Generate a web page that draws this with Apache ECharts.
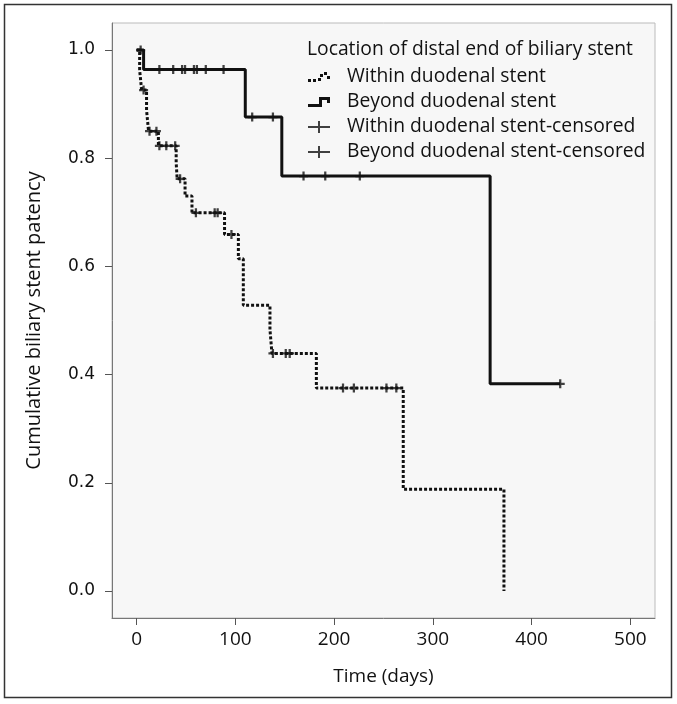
<!DOCTYPE html>
<html><head><meta charset="utf-8">
<script src="https://cdn.jsdelivr.net/npm/echarts@6/dist/echarts.min.js"></script>
<style>html,body{margin:0;padding:0;background:#fff}#c{width:677px;height:704px}</style>
</head><body><div id="c"></div>
<script>
// Kaplan-Meier step points (time in days, cumulative patency)
const withinTimes = [0, 3, 5, 10, 12, 22, 40, 41, 49, 56, 89, 103, 108, 135, 137, 182, 270, 372];
const withinSurv  = [1.0, 0.963, 0.926, 0.889, 0.850, 0.823, 0.792, 0.762, 0.730, 0.699, 0.659, 0.614, 0.528, 0.483, 0.439, 0.375, 0.188, 0.0];
const beyondTimes = [0, 7, 110, 147, 358, 429];
const beyondSurv  = [1.0, 0.964, 0.876, 0.767, 0.383, 0.383];
// censored observations
const withinCensTimes = [4, 7, 13, 20, 23, 30, 39, 44, 60, 79, 82, 96, 138, 151, 155, 209, 220, 253, 263];
const withinCensSurv  = [1.0, 0.926, 0.850, 0.850, 0.823, 0.823, 0.823, 0.762, 0.699, 0.699, 0.699, 0.659, 0.439, 0.439, 0.439, 0.375, 0.375, 0.375, 0.375];
const beyondCensTimes = [23, 37, 46, 49, 58, 61, 70, 88, 117, 138, 169, 191, 226, 429];
const beyondCensSurv  = [0.964, 0.964, 0.964, 0.964, 0.964, 0.964, 0.964, 0.964, 0.876, 0.876, 0.767, 0.767, 0.767, 0.383];
// axis ticks
const xTicks = [0, 100, 200, 300, 400, 500];
const yTicks = [0.0, 0.2, 0.4, 0.6, 0.8, 1.0];
const seriesNames = ['Within duodenal stent', 'Beyond duodenal stent', 'Within duodenal stent-censored', 'Beyond duodenal stent-censored'];
const legendTitle = 'Location of distal end of biliary stent';

const zip = (a, b) => a.map((v, i) => [v, b[i]]);
const FONT = '"Open Sans", "DejaVu Sans", sans-serif';
const INK = '#111';
const crossMark = 'path://M3,0h2v3h3v2h-3v3h-2v-3h-3v-2h3z';
const crossIcon = 'path://M10,0h2v5h10v2h-10v5h-2v-5h-10v-2h10z';
const dotStepIcon = 'path://M0,8h3v3h-3zM5,8h3v3h-3zM10,7h3v3h-3zM12,3h3v3h-3zM16,1h3v3h-3zM19,5h3v3h-3z';
const solidStepIcon = 'path://M0,8h11v-7h11v6h-3v-3h-5v7h-14z';

const chart = echarts.init(document.getElementById('c'), null, {renderer: 'canvas'});
chart.setOption({
  animation: false,
  backgroundColor: '#fff',
  title: {
    text: legendTitle, left: 302, top: 35,
    textStyle: {fontFamily: FONT, fontSize: 19.3, fontWeight: 'normal', color: INK}
  },
  legend: {
    orient: 'vertical', left: 303, top: 62,
    itemWidth: 22, itemHeight: 12, itemGap: 5,
    textStyle: {fontFamily: FONT, fontSize: 19.3, color: INK, lineHeight: 20, padding: [0, 0, 0, 12]},
    itemStyle: {color: INK, borderWidth: 0},
    selectedMode: false,
    data: [
      {name: seriesNames[0], icon: dotStepIcon},
      {name: seriesNames[1], icon: solidStepIcon},
      {name: seriesNames[2], icon: crossIcon},
      {name: seriesNames[3], icon: crossIcon}
    ]
  },
  graphic: [{
    type: 'rect', silent: true, z: -1,
    shape: {x: 4.5, y: 4.5, width: 667, height: 693},
    style: {fill: 'none', stroke: '#333', lineWidth: 1.5}
  }],
  grid: {
    left: 112, right: 22, top: 23, bottom: 86,
    show: true, backgroundColor: '#f7f7f7', borderColor: '#bbb', borderWidth: 1
  },
  xAxis: {
    type: 'value', min: -25, max: 525,
    name: 'Time (days)', nameLocation: 'middle', nameGap: 49,
    nameTextStyle: {fontFamily: FONT, fontSize: 19, color: INK},
    splitLine: {show: false},
    axisLine: {show: true, onZero: false, lineStyle: {color: '#777', width: 1}},
    axisTick: {show: true, length: 7, customValues: xTicks, lineStyle: {color: '#555'}},
    axisLabel: {customValues: xTicks, margin: 12, fontFamily: FONT, fontSize: 19, color: INK}
  },
  yAxis: {
    type: 'value', min: -0.05, max: 1.05,
    name: 'Cumulative biliary stent patency', nameLocation: 'middle', nameGap: 68,
    nameTextStyle: {fontFamily: FONT, fontSize: 20, color: INK},
    splitLine: {show: false},
    axisLine: {show: true, onZero: false, lineStyle: {color: '#777', width: 1}},
    axisTick: {show: true, length: 7, customValues: yTicks, lineStyle: {color: '#555'}},
    axisLabel: {customValues: yTicks, margin: 17, fontFamily: '"DejaVu Sans", sans-serif', fontSize: 17, color: INK,
      formatter: v => v.toFixed(1)}
  },
  series: [
    {
      name: seriesNames[0], type: 'line', step: 'end', symbol: 'none',
      data: zip(withinTimes, withinSurv),
      lineStyle: {color: INK, width: 3, type: [3, 2], cap: 'butt'},
      itemStyle: {color: INK}, z: 3
    },
    {
      name: seriesNames[1], type: 'line', step: 'end', symbol: 'none',
      data: zip(beyondTimes, beyondSurv),
      lineStyle: {color: INK, width: 3},
      itemStyle: {color: INK}, z: 3
    },
    {
      name: seriesNames[2], type: 'scatter', symbol: crossMark, symbolSize: [9, 9],
      data: zip(withinCensTimes, withinCensSurv),
      itemStyle: {color: INK}, z: 4
    },
    {
      name: seriesNames[3], type: 'scatter', symbol: crossMark, symbolSize: [9, 9],
      data: zip(beyondCensTimes, beyondCensSurv),
      itemStyle: {color: INK}, z: 4
    }
  ]
});
</script>
</body></html>
